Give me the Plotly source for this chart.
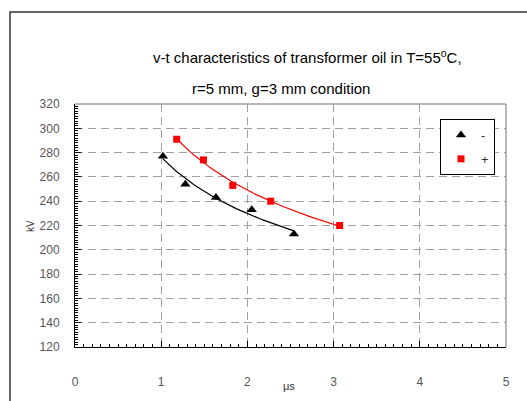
import numpy as np
import plotly.graph_objects as go

# Data
neg_t = [1.02, 1.28, 1.635, 2.05, 2.54]
neg_kv = [277, 254, 243, 233, 213]
pos_t = [1.18, 1.49, 1.83, 2.27, 3.07]
pos_kv = [291, 274, 253, 240, 220]

x_ticks = [0, 1, 2, 3, 4, 5]
y_ticks = [120, 140, 160, 180, 200, 220, 240, 260, 280, 300, 320]


def power_fit(x, y):
    x = np.asarray(x, float)
    y = np.asarray(y, float)
    b, ln_a = np.polyfit(np.log(x), np.log(y), 1)
    xs = np.linspace(x.min(), x.max(), 60)
    return xs, np.exp(ln_a) * xs ** b


W, H = 527, 401
L, R, T, B = 75, 21, 104, 54
pw, ph = W - L - R, H - T - B


def px_x(p):
    return (p - L) / pw


def px_y(p):
    return 1 - (p - T) / ph


fig = go.Figure()

nx, ny = power_fit(neg_t, neg_kv)
qx, qy = power_fit(pos_t, pos_kv)
fig.add_trace(go.Scatter(x=nx, y=ny, mode="lines", line=dict(color="black", width=1.2),
                         showlegend=False, hoverinfo="skip"))
fig.add_trace(go.Scatter(x=qx, y=qy, mode="lines", line=dict(color="#ff0000", width=1.2),
                         showlegend=False, hoverinfo="skip"))
fig.add_trace(go.Scatter(x=neg_t, y=neg_kv, mode="markers", name="-",
                         marker=dict(symbol="triangle-up", size=9, color="black"),
                         legendgroup="a"))
fig.add_trace(go.Scatter(x=pos_t, y=pos_kv, mode="markers", name="+",
                         marker=dict(symbol="square", size=7, color="#ff0000"),
                         legendgroup="b"))

font = "Liberation Sans, Arial, sans-serif"

fig.update_layout(
    width=W, height=H,
    margin=dict(l=L, r=R, t=T, b=B),
    paper_bgcolor="white", plot_bgcolor="white",
    font=dict(family=font, size=12, color="#555555"),
    showlegend=True,
    legend=dict(x=px_x(440), y=px_y(119), xanchor="left", yanchor="top",
                bgcolor="white", bordercolor="black", borderwidth=1,
                font=dict(size=13, color="#333333"), tracegroupgap=4,
                itemwidth=30),
    xaxis=dict(range=[0, 5], tickvals=x_ticks, showgrid=True, gridcolor="#a0a0a0",
               griddash="8px,5px", gridwidth=1, zeroline=False,
               showline=True, linecolor="black", linewidth=1,
               ticks="inside", ticklen=6, tickcolor="black",
               ticklabelstandoff=24,
               minor=dict(dtick=0.1, ticks="inside", ticklen=3, tickcolor="black",
                          showgrid=False)),
    yaxis=dict(range=[120, 320], tickvals=y_ticks, showgrid=True, gridcolor="#a0a0a0",
               griddash="8px,5px", gridwidth=1, zeroline=False,
               showline=True, linecolor="black", linewidth=1,
               ticks="inside", ticklen=6, tickcolor="black",
               ticklabelstandoff=12,
               minor=dict(dtick=2, ticks="inside", ticklen=3, tickcolor="black",
                          showgrid=False)),
    shapes=[
        # outer frame
        dict(type="rect", xref="paper", yref="paper",
             x0=px_x(10), x1=px_x(540), y0=px_y(420), y1=px_y(12),
             line=dict(color="#333333", width=1.5), layer="below"),
        # top and right plot border
        dict(type="line", xref="paper", yref="paper", x0=0, x1=1, y0=1, y1=1,
             line=dict(color="#a0a0a0", width=1.5)),
        dict(type="line", xref="paper", yref="paper", x0=1, x1=1, y0=0, y1=1,
             line=dict(color="#a0a0a0", width=1.5)),
    ],
    annotations=[
        dict(text="v-t characteristics of transformer oil in T=55<sup>o</sup>C,",
             xref="paper", yref="paper", x=px_x(307), y=px_y(56),
             xanchor="center", yanchor="middle", showarrow=False,
             font=dict(size=15, color="black")),
        dict(text="r=5 mm, g=3 mm condition",
             xref="paper", yref="paper", x=px_x(281), y=px_y(88),
             xanchor="center", yanchor="middle", showarrow=False,
             font=dict(size=15, color="black")),
        dict(text="kV", xref="paper", yref="paper", x=px_x(30), y=px_y(226),
             xanchor="center", yanchor="middle", showarrow=False, textangle=-90,
             font=dict(size=10, color="#333333")),
        dict(text="μs", xref="paper", yref="paper", x=px_x(289), y=px_y(386),
             xanchor="center", yanchor="middle", showarrow=False,
             font=dict(size=11, color="#333333")),
    ],
)

fig.write_html("out.html")
